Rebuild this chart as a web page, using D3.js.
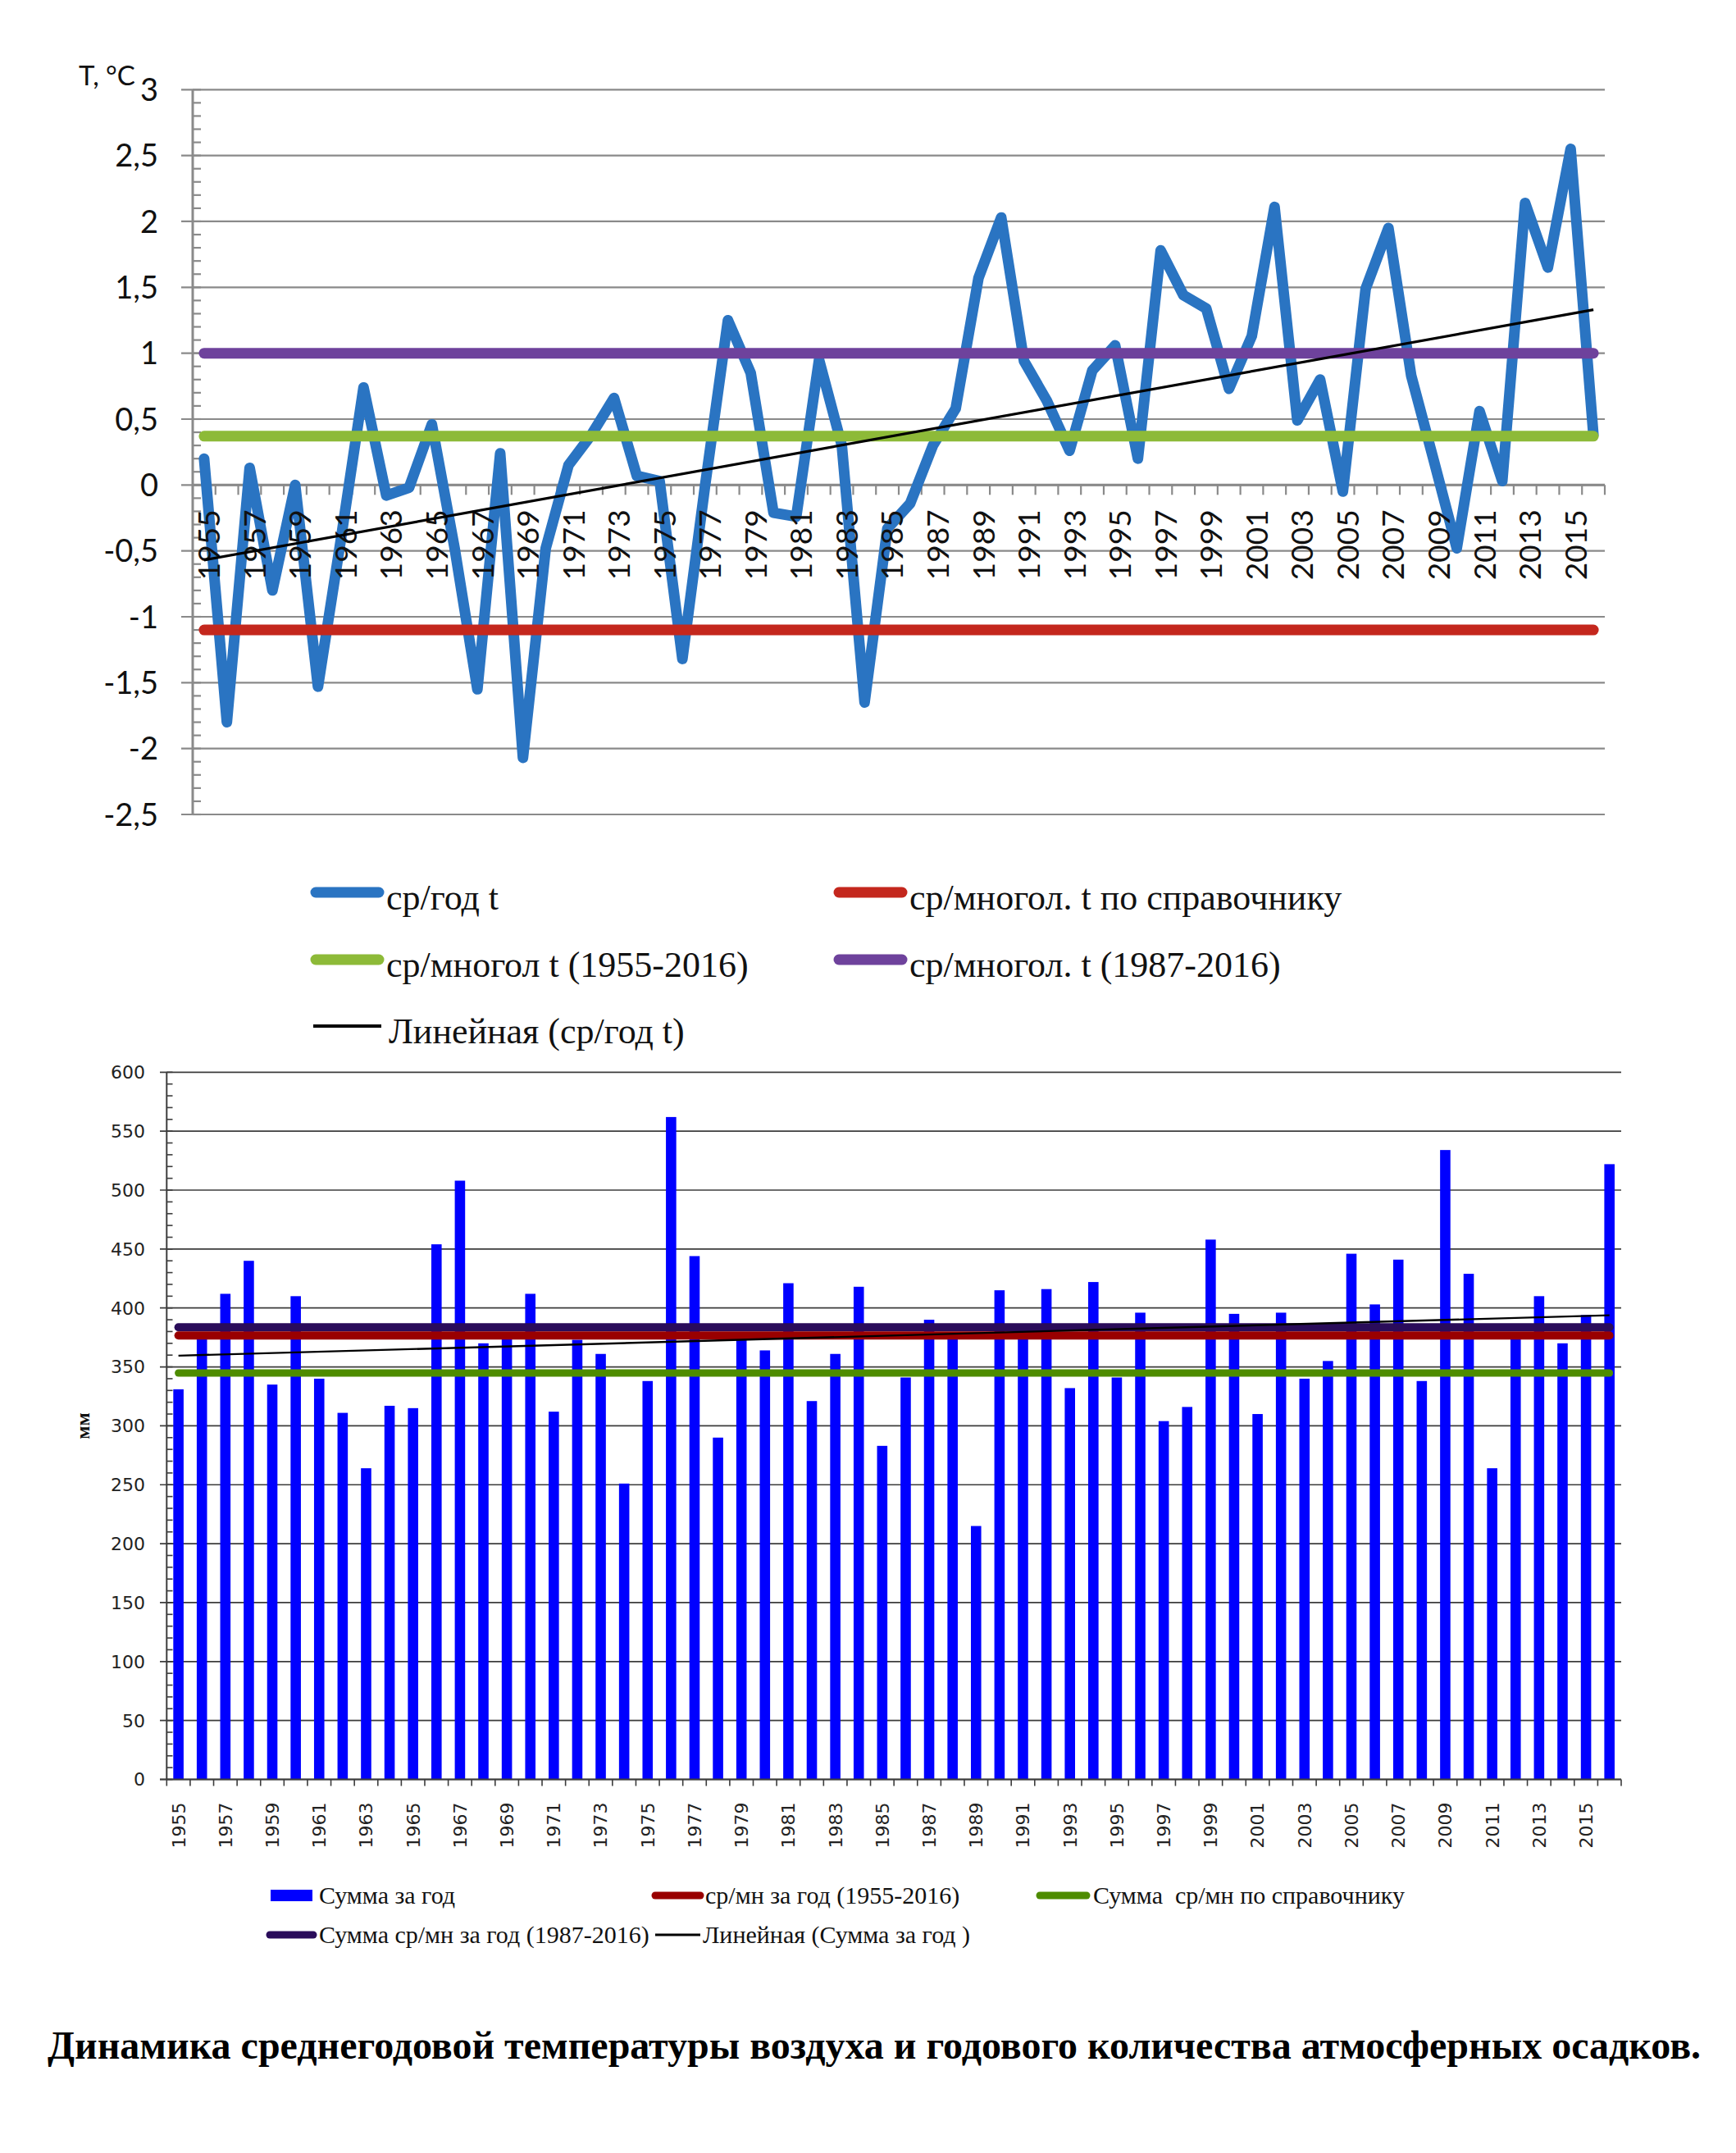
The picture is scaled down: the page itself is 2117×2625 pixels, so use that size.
<!DOCTYPE html>
<html>
<head>
<meta charset="utf-8">
<script src="https://cdn.jsdelivr.net/npm/d3@7"></script>
<style>
  body { margin: 0; background: #fff; }
  svg { display: block; }
</style>
</head>
<body>
<svg id="chart"></svg>
<script>
// ---- data -------------------------------------------------------------
const years = d3.range(1955, 2017);

// mean annual air temperature, °C
const tempYear = [
  0.2, -1.8, 0.13, -0.8, 0.0, -1.53, -0.42, 0.74, -0.08, -0.02,
  0.46, -0.48, -1.55, 0.24, -2.07, -0.48, 0.15, 0.38, 0.66, 0.07,
  0.03, -1.32, 0.0, 1.25, 0.85, -0.21, -0.24, 0.95, 0.3, -1.65,
  -0.33, -0.14, 0.3, 0.58, 1.57, 2.03, 0.94, 0.64, 0.26, 0.87,
  1.06, 0.2, 1.78, 1.44, 1.34, 0.73, 1.13, 2.11, 0.49, 0.8,
  -0.05, 1.49, 1.95, 0.83, 0.18, -0.48, 0.56, 0.03, 2.14, 1.65,
  2.55, 0.38
];
const tempTrend = [-0.57, 1.33];       // linear trend at 1955 and 2016
const tempNormRef = -1.1;              // ср/многол. t по справочнику
const tempNorm5516 = 0.37;             // ср/многол t (1955-2016)
const tempNorm8716 = 1.0;              // ср/многол. t (1987-2016)
const tempTicks = d3.range(-2.5, 3.01, 0.5);

// annual precipitation, mm
const precipYear = [
  331, 378, 412, 440, 335, 410, 340, 311, 264, 317,
  315, 454, 508, 370, 375, 412, 312, 373, 361, 251,
  338, 562, 444, 290, 374, 364, 421, 321, 361, 418,
  283, 341, 390, 378, 215, 415, 375, 416, 332, 422,
  341, 396, 304, 316, 458, 395, 310, 396, 340, 355,
  446, 403, 441, 338, 534, 429, 264, 376, 410, 370,
  394, 522
];
const precipTrend = [359.5, 393.8];    // linear trend at 1955 and 2016
const precipNorm5516 = 376.6;          // ср/мн за год (1955-2016)
const precipNormRef = 344.8;           // Сумма ср/мн по справочнику
const precipNorm8716 = 383.6;          // Сумма ср/мн за год (1987-2016)
const precipTicks = d3.range(0, 601, 50);

const tempLegend = ['ср/год t', 'ср/многол. t по справочнику', 'ср/многол t (1955-2016)',
  'ср/многол. t (1987-2016)', 'Линейная (ср/год t)'];
const precipLegend = ['Сумма за год', 'ср/мн за год (1955-2016)', 'Сумма  ср/мн по справочнику',
  'Сумма ср/мн за год (1987-2016)', 'Линейная (Сумма за год )'];
const caption = 'Динамика среднегодовой температуры воздуха и годового количества атмосферных осадков.';

// ---- colours ----------------------------------------------------------
const C = {
  tBlue: '#2a74c2', tRed: '#c4271d', tGreen: '#8dba38', tPurple: '#6e429c',
  pBar: '#0000ff', pRed: '#990000', pGreen: '#4e8c00', pPurple: '#2a0c5a',
  gridT: '#8a8a8a', gridP: '#3c3c3c'
};

const W = 2117, H = 2625;
const svg = d3.select('#chart').attr('width', W).attr('height', H);
svg.append('rect').attr('width', W).attr('height', H).attr('fill', '#fff');

const fmt = v => String(+v.toFixed(1)).replace('.', ',');

// ======================================================================
// Top chart: temperature
// ======================================================================
const xT = d3.scaleBand().domain(years).range([235, 1957]);
const yT = d3.scaleLinear().domain([-2.5, 3]).range([993, 109.3]);
const cx = y => xT(y) + xT.bandwidth() / 2;

const gT = svg.append('g');

// gridlines
gT.selectAll('.gridT').data(tempTicks).enter().append('line')
  .attr('x1', 221).attr('x2', 1957)
  .attr('y1', d => yT(d)).attr('y2', d => yT(d))
  .attr('stroke', C.gridT).attr('stroke-width', 2.2);

// y axis line + ticks
gT.append('line').attr('x1', 235).attr('x2', 235)
  .attr('y1', yT(3)).attr('y2', yT(-2.5))
  .attr('stroke', C.gridT).attr('stroke-width', 3);
gT.selectAll('.minT').data(d3.range(-25, 31).map(d => d / 10)).enter().append('line')
  .attr('x1', 235).attr('x2', 245)
  .attr('y1', d => yT(d)).attr('y2', d => yT(d))
  .attr('stroke', C.gridT).attr('stroke-width', 2.2);

gT.selectAll('.lblT').data(tempTicks).enter().append('text')
  .attr('x', 193).attr('y', d => yT(d))
  .attr('dy', '0.36em')
  .attr('text-anchor', 'end')
  .attr('font-family', 'Lato, "Open Sans", sans-serif')
  .attr('font-size', 38)
  .attr('fill', '#111')
  .text(fmt);

gT.append('text')
  .attr('x', 96).attr('y', 104)
  .attr('font-family', 'Lato, "Open Sans", sans-serif')
  .attr('font-size', 33)
  .attr('fill', '#111')
  .text('T, °C');

// x axis at zero
gT.append('line').attr('x1', 235).attr('x2', 1957)
  .attr('y1', yT(0)).attr('y2', yT(0))
  .attr('stroke', C.gridT).attr('stroke-width', 3);
gT.selectAll('.tickXT').data(years.concat([null])).enter().append('line')
  .attr('x1', (d, i) => 235 + i * xT.step()).attr('x2', (d, i) => 235 + i * xT.step())
  .attr('y1', yT(0)).attr('y2', yT(0) + 12)
  .attr('stroke', C.gridT).attr('stroke-width', 2.2);

// series line
const lineT = d3.line().x((d, i) => cx(years[i])).y(d => yT(d));
gT.append('path').datum(tempYear)
  .attr('d', lineT)
  .attr('fill', 'none').attr('stroke', C.tBlue)
  .attr('stroke-width', 13).attr('stroke-linejoin', 'round').attr('stroke-linecap', 'round');

// x labels (drawn over the blue line as in the original)
gT.selectAll('.xlT').data(years.filter((d, i) => i % 2 === 0)).enter().append('text')
  .attr('transform', d => `translate(${cx(d) + 6},${yT(0) + 30}) rotate(-90)`)
  .attr('dy', '0.36em')
  .attr('text-anchor', 'end')
  .attr('font-family', 'Lato, "Open Sans", sans-serif')
  .attr('font-size', 37)
  .attr('fill', '#111')
  .text(d => d);

// constant reference lines
const ends = [years[0], years[years.length - 1]];
const hline = (v, color, w) => gT.append('line')
  .attr('x1', cx(ends[0])).attr('x2', cx(ends[1]))
  .attr('y1', yT(v)).attr('y2', yT(v))
  .attr('stroke', color).attr('stroke-width', w).attr('stroke-linecap', 'round');
hline(tempNormRef, C.tRed, 13);
hline(tempNorm5516, C.tGreen, 13);
hline(tempNorm8716, C.tPurple, 13);

gT.append('line')
  .attr('x1', cx(ends[0])).attr('x2', cx(ends[1]))
  .attr('y1', yT(tempTrend[0])).attr('y2', yT(tempTrend[1]))
  .attr('stroke', '#000').attr('stroke-width', 3.2);

// legend
const legT = [
  { x: 379, y: 1088, color: C.tBlue, w: 13, text: tempLegend[0] },
  { x: 1017, y: 1088, color: C.tRed, w: 13, text: tempLegend[1] },
  { x: 379, y: 1170, color: C.tGreen, w: 13, text: tempLegend[2] },
  { x: 1017, y: 1170, color: C.tPurple, w: 13, text: tempLegend[3] },
  { x: 382, y: 1251, color: '#000', w: 4, text: tempLegend[4], len: 83 }
];
const gLT = svg.append('g');
legT.forEach(d => {
  const len = d.len || 89;
  gLT.append('line')
    .attr('x1', d.x + (d.w > 5 ? 6 : 0)).attr('x2', d.x + len - (d.w > 5 ? 6 : 0))
    .attr('y1', d.y).attr('y2', d.y)
    .attr('stroke', d.color).attr('stroke-width', d.w)
    .attr('stroke-linecap', d.w > 5 ? 'round' : 'butt');
  gLT.append('text')
    .attr('x', d.x + 92).attr('y', d.y + 21)
    .attr('font-family', '"Liberation Serif", "DejaVu Serif", serif')
    .attr('font-size', 44)
    .attr('fill', '#111')
    .text(d.text);
});

// ======================================================================
// Bottom chart: precipitation
// ======================================================================
const xP = d3.scaleBand().domain(years).range([203.3, 1977])
  .paddingInner(0.56).paddingOuter(0.28);
const yP = d3.scaleLinear().domain([0, 600]).range([2169.5, 1307.3]);
const px = y => xP(y) + xP.bandwidth() / 2;
const stepP = (1977 - 203.3) / years.length;

const gP = svg.append('g');

gP.selectAll('.gridP').data(precipTicks).enter().append('line')
  .attr('x1', 195).attr('x2', 1977)
  .attr('y1', d => yP(d)).attr('y2', d => yP(d))
  .attr('stroke', C.gridP).attr('stroke-width', 1.7);

gP.append('line').attr('x1', 203.3).attr('x2', 203.3)
  .attr('y1', yP(600)).attr('y2', yP(0))
  .attr('stroke', C.gridP).attr('stroke-width', 2);
gP.selectAll('.minP').data(d3.range(0, 601, 10)).enter().append('line')
  .attr('x1', 203.3).attr('x2', 210.5)
  .attr('y1', d => yP(d)).attr('y2', d => yP(d))
  .attr('stroke', C.gridP).attr('stroke-width', 1.6);

gP.selectAll('.lblP').data(precipTicks).enter().append('text')
  .attr('x', 177).attr('y', d => yP(d))
  .attr('dy', '0.36em')
  .attr('text-anchor', 'end')
  .attr('font-family', '"DejaVu Sans", Verdana, sans-serif')
  .attr('font-size', 22)
  .attr('fill', '#222')
  .text(d => d);

gP.append('text')
  .attr('transform', `translate(101,${yP(300)}) rotate(-90)`)
  .attr('dy', '0.35em')
  .attr('text-anchor', 'middle')
  .attr('font-family', '"Liberation Serif", serif')
  .attr('font-weight', 'bold')
  .attr('font-size', 24)
  .attr('fill', '#111')
  .text('мм');

// bars
gP.selectAll('.bar').data(precipYear).enter().append('rect')
  .attr('x', (d, i) => xP(years[i]))
  .attr('width', xP.bandwidth())
  .attr('y', d => yP(d))
  .attr('height', d => yP(0) - yP(d))
  .attr('fill', C.pBar);

// x axis
gP.append('line').attr('x1', 195).attr('x2', 1977)
  .attr('y1', yP(0)).attr('y2', yP(0))
  .attr('stroke', C.gridP).attr('stroke-width', 2);
gP.selectAll('.tickXP').data(years.concat([null])).enter().append('line')
  .attr('x1', (d, i) => 203.3 + i * stepP).attr('x2', (d, i) => 203.3 + i * stepP)
  .attr('y1', yP(0)).attr('y2', yP(0) + 8)
  .attr('stroke', C.gridP).attr('stroke-width', 1.6);

gP.selectAll('.xlP').data(years.filter((d, i) => i % 2 === 0)).enter().append('text')
  .attr('transform', d => `translate(${px(d)},${yP(0) + 28}) rotate(-90)`)
  .attr('dy', '0.36em')
  .attr('text-anchor', 'end')
  .attr('font-family', '"DejaVu Sans", Verdana, sans-serif')
  .attr('font-size', 22)
  .attr('fill', '#222')
  .text(d => d);

const hlineP = (v, color, w) => gP.append('line')
  .attr('x1', px(ends[0])).attr('x2', px(ends[1]))
  .attr('y1', yP(v)).attr('y2', yP(v))
  .attr('stroke', color).attr('stroke-width', w).attr('stroke-linecap', 'round');
hlineP(precipNorm8716, C.pPurple, 10);
hlineP(precipNorm5516, C.pRed, 10);
hlineP(precipNormRef, C.pGreen, 9);

gP.append('line')
  .attr('x1', px(ends[0])).attr('x2', px(ends[1]))
  .attr('y1', yP(precipTrend[0])).attr('y2', yP(precipTrend[1]))
  .attr('stroke', '#000').attr('stroke-width', 2.4);

// legend
const legP = [
  { x: 330, y: 2311, color: C.pBar, kind: 'rect', len: 51, tx: 389, text: precipLegend[0] },
  { x: 795, y: 2311, color: C.pRed, kind: 'line', len: 63, tx: 860, text: precipLegend[1] },
  { x: 1264, y: 2311, color: C.pGreen, kind: 'line', len: 65, tx: 1333, text: precipLegend[2] },
  { x: 325, y: 2359, color: C.pPurple, kind: 'line', len: 61, tx: 389, text: precipLegend[3] },
  { x: 799, y: 2359, color: '#000', kind: 'thin', len: 55, tx: 857, text: precipLegend[4] }
];
const gLP = svg.append('g');
legP.forEach(d => {
  if (d.kind === 'rect') {
    gLP.append('rect').attr('x', d.x).attr('y', d.y - 7)
      .attr('width', d.len).attr('height', 14).attr('fill', d.color);
  } else {
    const thin = d.kind === 'thin';
    gLP.append('line')
      .attr('x1', d.x + (thin ? 0 : 4)).attr('x2', d.x + d.len - (thin ? 0 : 4))
      .attr('y1', d.y).attr('y2', d.y)
      .attr('stroke', d.color).attr('stroke-width', thin ? 3 : 9)
      .attr('stroke-linecap', thin ? 'butt' : 'round');
  }
  gLP.append('text')
    .attr('x', d.tx).attr('y', d.y + 10)
    .attr('font-family', '"Liberation Serif", "DejaVu Serif", serif')
    .attr('font-size', 30)
    .attr('fill', '#111')
    .style('white-space', 'pre')
    .text(d.text);
});

// caption
svg.append('text')
  .attr('x', 58).attr('y', 2510)
  .attr('font-family', '"Liberation Serif", "Times New Roman", serif')
  .attr('font-weight', 'bold')
  .attr('font-size', 48)
  .attr('fill', '#000')
  .text(caption);
</script>
</body>
</html>
